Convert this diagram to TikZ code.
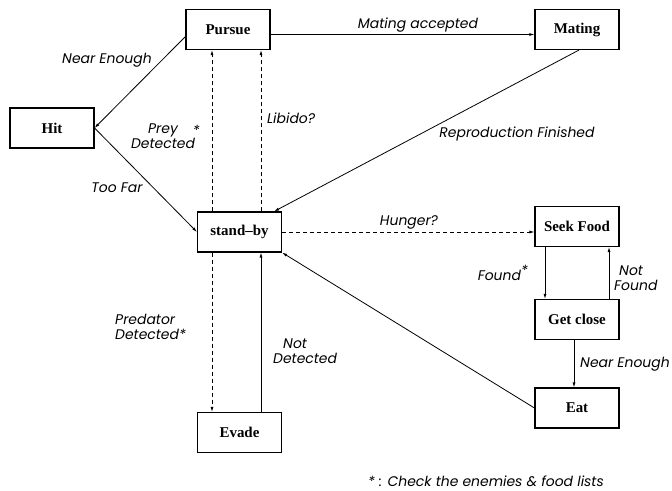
\documentclass[tikz,border=0pt]{standalone}
\usepackage{fontspec}
\setmainfont{Liberation Serif}
\newfontfamily\labfont{Poppins}
\usetikzlibrary{arrows.meta}
\begin{document}
\begin{tikzpicture}[x=1bp,y=-1bp,
  box/.style={draw,line width=1.1bp,rectangle,minimum width=84bp,minimum height=40bp,inner sep=0pt,font=\fontsize{15}{17}\selectfont\bfseries},
  lab/.style={font=\labfont\itshape\fontsize{14}{15.5}\selectfont,inner sep=0pt},
  arr/.style={line width=0.8bp,-{Latex[length=5bp,width=3bp]}},
  darr/.style={arr,dash pattern=on 4bp off 3bp}]
\useasboundingbox (0,0) rectangle (672,491);
\node[box] (pursue) at (228,29.5) {Pursue};
\node[box] (hit) at (52,128) {Hit};
\node[box] (standby) at (239.5,232) {stand--by};
\node[box] (mating) at (577,29.5) {Mating};
\node[box] (seek) at (577,226.5) {Seek Food};
\node[box] (getclose) at (577,319.5) {Get close};
\node[box] (eat) at (577,408) {Eat};
\node[box] (evade) at (239.5,432.5) {Evade};

\draw[arr] ([yshift=-5bp]pursue.east) -- ([yshift=-5bp]mating.west);
\draw[arr] ([yshift=-7bp]pursue.west) -- (hit.east);
\draw[arr] (hit.east) -- (standby.west);
\draw[arr] ([xshift=2bp]mating.south) -- ([xshift=-8bp]standby.north east);
\draw[darr] ([xshift=-27.5bp]standby.north) coordinate (p1) -- (p1 |- pursue.south);
\draw[darr] ([xshift=21.5bp]standby.north) coordinate (p2) -- (p2 |- pursue.south);
\draw[darr] ([xshift=-27.5bp]standby.south) coordinate (e1) -- (e1 |- evade.north);
\draw[arr] ([xshift=21.5bp]evade.north) coordinate (e2) -- (e2 |- standby.south);
\draw[darr] (standby.east) -- (seek.west |- standby.east);
\draw[arr] ([xshift=-32bp]seek.south) -- ([xshift=-32bp]getclose.north);
\draw[arr] ([xshift=32bp]getclose.north) -- ([xshift=32bp]seek.south);
\draw[arr] ([xshift=-3bp]getclose.south) -- ([xshift=-3bp]eat.north);
\draw[arr] (eat.west) -- (standby.south east);

\node[lab] (l1) at (107,60) {Near Enough};
\node[lab,align=center] (l2) at (163,136) {Prey\makebox[0pt][l]{\hspace{15bp}\raisebox{-2bp}{*}}\\Detected};
\node[lab,anchor=west] (l3) at (267,118) {Libido?};
\node[lab] (l4) at (117,188) {Too Far};
\node[lab] (l5) at (418,25) {Mating accepted};
\node[lab] (l6) at (517,134) {Reproduction Finished};
\node[lab] (l7) at (409,222) {Hunger?};
\node[lab,align=left,anchor=west] (l8) at (115,327) {Predator\\Detected*};
\node[lab,align=left,anchor=west] (l9) at (273,351) {\hspace{10bp}Not\\Detected};
\node[lab,anchor=east] (l10) at (528,273) {Found\raisebox{5bp}{*}};
\node[lab,align=left,anchor=west] (l11) at (614,278) {\hspace{5bp}Not\\Found};
\node[lab,anchor=west] (l12) at (580,364) {Near Enough};
\node[lab] (l13) at (486,481) {* : Check the enemies \& food lists};
\end{tikzpicture}
\end{document}
